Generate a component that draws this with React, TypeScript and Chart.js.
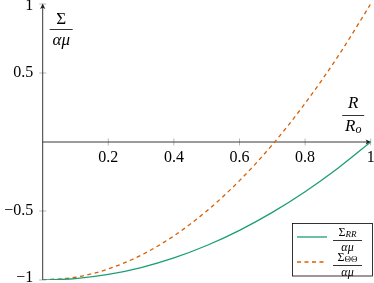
import React, { useEffect, useRef } from 'react';
import { Chart, registerables } from 'chart.js';

Chart.register(...registerables);

// ---- data ----
const rOverRo = [0, 0.1, 0.2, 0.3, 0.4, 0.5, 0.6, 0.7, 0.8, 0.9, 1];
const sigmaRR = [-1, -0.99, -0.96, -0.91, -0.84, -0.75, -0.64, -0.51, -0.36, -0.19, 0];
const sigmaTT = [-1, -0.98, -0.92, -0.82, -0.68, -0.5, -0.28, -0.02, 0.28, 0.62, 1];

const xTicks = [0.2, 0.4, 0.6, 0.8, 1];
const xTickLabels = ['0.2', '0.4', '0.6', '0.8', '1'];
const yTicks = [1, 0.5, -0.5, -1];
const yTickLabels = ['1', '0.5', '\u22120.5', '\u22121'];

const GREEN = '#1b9e77';
const ORANGE = '#d95f02';
const SERIF = '"Liberation Serif", "DejaVu Serif", serif';

type Run = { text: string; font: string; dy?: number };

function drawRuns(ctx: CanvasRenderingContext2D, runs: Run[], cx: number, cy: number) {
  let total = 0;
  const widths = runs.map((r) => {
    ctx.font = r.font;
    const w = ctx.measureText(r.text).width;
    total += w;
    return w;
  });
  let x = cx - total / 2;
  ctx.textAlign = 'left';
  ctx.textBaseline = 'middle';
  runs.forEach((r, i) => {
    ctx.font = r.font;
    ctx.fillText(r.text, x, cy + (r.dy || 0));
    x += widths[i];
  });
  return total;
}

function drawFrac(
  ctx: CanvasRenderingContext2D,
  num: Run[],
  den: Run[],
  cx: number,
  barY: number,
  barW: number,
  numDy: number,
  denDy: number
) {
  ctx.fillStyle = '#000';
  drawRuns(ctx, num, cx, barY - numDy);
  drawRuns(ctx, den, cx, barY + denDy);
  ctx.strokeStyle = '#000';
  ctx.lineWidth = 0.8;
  ctx.beginPath();
  ctx.moveTo(cx - barW / 2, barY);
  ctx.lineTo(cx + barW / 2, barY);
  ctx.stroke();
}

const axesPlugin = {
  id: 'pgfAxes',
  beforeDatasetsDraw(chart: any) {
    const ctx: CanvasRenderingContext2D = chart.ctx;
    const xs = chart.scales.x;
    const ys = chart.scales.y;
    const x0 = xs.getPixelForValue(0);
    const x1 = xs.getPixelForValue(1);
    const y0 = ys.getPixelForValue(0);
    const yTop = ys.getPixelForValue(1);
    const yBot = ys.getPixelForValue(-1);
    ctx.save();
    // ticks
    ctx.strokeStyle = '#8a8a8a';
    ctx.lineWidth = 0.6;
    xTicks.forEach((v) => {
      const px = xs.getPixelForValue(v);
      ctx.beginPath();
      ctx.moveTo(px, y0 - 3.5);
      ctx.lineTo(px, y0 + 3.5);
      ctx.stroke();
    });
    yTicks.forEach((v) => {
      const py = ys.getPixelForValue(v);
      ctx.beginPath();
      ctx.moveTo(x0 - 3.5, py);
      ctx.lineTo(x0 + 3.5, py);
      ctx.stroke();
    });
    // axis lines
    ctx.strokeStyle = '#222';
    ctx.lineWidth = 0.9;
    ctx.beginPath();
    ctx.moveTo(x0, y0);
    ctx.lineTo(x1 - 1, y0);
    ctx.moveTo(x0, yBot);
    ctx.lineTo(x0, yTop + 1);
    ctx.stroke();
    // arrow heads
    ctx.fillStyle = '#222';
    ctx.beginPath();
    ctx.moveTo(x1 + 0.5, y0);
    ctx.lineTo(x1 - 5, y0 - 2.6);
    ctx.lineTo(x1 - 3.8, y0);
    ctx.lineTo(x1 - 5, y0 + 2.6);
    ctx.closePath();
    ctx.fill();
    ctx.beginPath();
    ctx.moveTo(x0, yTop - 0.5);
    ctx.lineTo(x0 - 2.6, yTop + 5);
    ctx.lineTo(x0, yTop + 3.8);
    ctx.lineTo(x0 + 2.6, yTop + 5);
    ctx.closePath();
    ctx.fill();
    // tick labels
    ctx.fillStyle = '#000';
    ctx.font = `16px ${SERIF}`;
    ctx.textBaseline = 'middle';
    ctx.textAlign = 'center';
    xTicks.forEach((v, i) => {
      ctx.fillText(xTickLabels[i], xs.getPixelForValue(v), y0 + 15.5);
    });
    ctx.textAlign = 'right';
    yTicks.forEach((v, i) => {
      let py = ys.getPixelForValue(v);
      if (v === 1) py += 1.5;
      if (v === -1) py -= 2;
      ctx.fillText(yTickLabels[i], x0 - 9.5, py);
    });
    // axis labels
    drawFrac(
      ctx,
      [{ text: '\u03A3', font: `17px ${SERIF}` }],
      [{ text: '\u03B1\u03BC', font: `italic 17px ${SERIF}` }],
      x0 + 18.5,
      29.5,
      23,
      10,
      11
    );
    drawFrac(
      ctx,
      [{ text: 'R', font: `italic 17px ${SERIF}` }],
      [
        { text: 'R', font: `italic 17px ${SERIF}` },
        { text: 'o', font: `italic 12px ${SERIF}`, dy: 3 },
      ],
      x1 - 17.5,
      y0 - 26.5,
      22,
      12,
      11
    );
    ctx.restore();
  },
  afterDraw(chart: any) {
    const ctx: CanvasRenderingContext2D = chart.ctx;
    ctx.save();
    // legend box
    const bx = 292.5, by = 223.5, bw = 80, bh = 52.5;
    ctx.fillStyle = '#fff';
    ctx.fillRect(bx, by, bw, bh);
    ctx.strokeStyle = '#000';
    ctx.lineWidth = 0.8;
    ctx.strokeRect(bx, by, bw, bh);
    const entries = [
      { color: GREEN, dash: [] as number[], sub: 'RR', subFont: `italic 9px ${SERIF}`, barY: 240.5 },
      { color: ORANGE, dash: [4, 3.5], sub: '\u0398\u0398', subFont: `9px ${SERIF}`, barY: 265.5 },
    ];
    entries.forEach((e) => {
      ctx.strokeStyle = e.color;
      ctx.lineWidth = 1.3;
      ctx.setLineDash(e.dash);
      ctx.beginPath();
      ctx.moveTo(297, e.barY - 3.5);
      ctx.lineTo(327, e.barY - 3.5);
      ctx.stroke();
      ctx.setLineDash([]);
      drawFrac(
        ctx,
        [
          { text: '\u03A3', font: `12px ${SERIF}` },
          { text: e.sub, font: e.subFont, dy: 2 },
        ],
        [{ text: '\u03B1\u03BC', font: `italic 12px ${SERIF}` }],
        347.5,
        e.barY,
        29,
        7.5,
        7.5
      );
    });
    ctx.restore();
  },
};

export default function App() {
  const ref = useRef<HTMLCanvasElement>(null);
  useEffect(() => {
    document.body.style.margin = '0';
    const canvas = ref.current;
    if (!canvas) return;
    const chart = new Chart(canvas, {
      type: 'line',
      data: {
        datasets: [
          {
            label: 'Sigma_RR',
            data: rOverRo.map((x, i) => ({ x, y: sigmaRR[i] })),
            borderColor: GREEN,
            borderWidth: 1.3,
            pointRadius: 0,
            cubicInterpolationMode: 'monotone',
            fill: false,
          },
          {
            label: 'Sigma_TT',
            data: rOverRo.map((x, i) => ({ x, y: sigmaTT[i] })),
            borderColor: ORANGE,
            borderWidth: 1.3,
            borderDash: [4, 3.5],
            pointRadius: 0,
            cubicInterpolationMode: 'monotone',
            fill: false,
          },
        ],
      },
      options: {
        responsive: false,
        animation: false,
        events: [],
        layout: { padding: { left: 42.7, right: 3.3, top: 4, bottom: 3 } },
        scales: {
          x: { type: 'linear', min: 0, max: 1, display: false },
          y: { type: 'linear', min: -1, max: 1, display: false },
        },
        plugins: {
          legend: { display: false },
          tooltip: { enabled: false },
        },
      },
      plugins: [axesPlugin],
    } as any);
    return () => chart.destroy();
  }, []);
  return (
    <div style={{ width: 374, height: 283 }}>
      <canvas ref={ref} width={374} height={283} style={{ display: 'block' }} />
    </div>
  );
}
